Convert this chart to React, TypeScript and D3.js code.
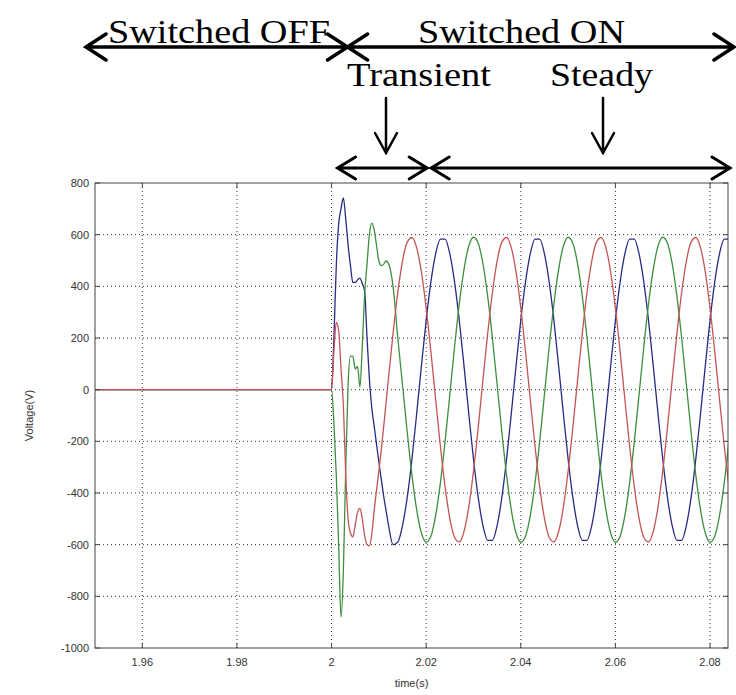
import React from 'react';
import * as d3 from 'd3';

const WIDTH = 736;
const HEIGHT = 695;
const MARGIN = { top: 183, right: 8, bottom: 47, left: 95 };

// sample times (s)
const timeS = [
  1.95,
  2.0, 2.0005, 2.001, 2.0015, 2.002, 2.0025, 2.003, 2.0035, 2.004, 2.0045,
  2.005, 2.0055, 2.006, 2.0065, 2.007, 2.0075, 2.008, 2.0085, 2.009, 2.0095,
  2.01, 2.0105, 2.011, 2.0115, 2.012,
  2.013, 2.014, 2.015, 2.016, 2.017, 2.018, 2.019, 2.02, 2.021, 2.022,
  2.023, 2.024, 2.025, 2.026, 2.027, 2.028, 2.029, 2.03, 2.031, 2.032,
  2.033, 2.034, 2.035, 2.036, 2.037, 2.038, 2.039, 2.04, 2.041, 2.042,
  2.043, 2.044, 2.045, 2.046, 2.047, 2.048, 2.049, 2.05, 2.051, 2.052,
  2.053, 2.054, 2.055, 2.056, 2.057, 2.058, 2.059, 2.06, 2.061, 2.062,
  2.063, 2.064, 2.065, 2.066, 2.067, 2.068, 2.069, 2.07, 2.071, 2.072,
  2.073, 2.074, 2.075, 2.076, 2.077, 2.078, 2.079, 2.08, 2.081, 2.082,
  2.083, 2.084,
];

// phase voltages (V)
const phaseBlue = [
  0,
  0, 200, 480, 640, 700, 742, 660, 560, 480, 415,
  415, 425, 432, 410, 380, 200, 40, -70, -140, -210,
  -280, -345, -410, -465, -520,
  -600, -590, -526, -417, -268, -92, 92, 268, 417, 526,
  583, 583, 526, 417, 268, 92, -92, -268, -417, -526,
  -583, -583, -526, -417, -268, -92, 92, 268, 417, 526,
  583, 583, 526, 417, 268, 92, -92, -268, -417, -526,
  -583, -583, -526, -417, -268, -92, 92, 268, 417, 526,
  583, 583, 526, 417, 268, 92, -92, -268, -417, -526,
  -583, -583, -526, -417, -268, -92, 92, 268, 417, 526,
  583, 583,
];

const phaseGreen = [
  0,
  0, -130, -330, -600, -880, -700, -300, 20, 130, 130,
  80, 90, 10, 170, 370, 486, 600, 645, 620, 560,
  498, 480, 485, 498, 490,
  400, 200, 19, -165, -332, -466, -555, -590, -567, -488,
  -362, -200, -19, 165, 332, 466, 555, 590, 567, 488,
  362, 200, 19, -165, -332, -466, -555, -590, -567, -488,
  -362, -200, -19, 165, 332, 466, 555, 590, 567, 488,
  362, 200, 19, -165, -332, -466, -555, -590, -567, -488,
  -362, -200, -19, 165, 332, 466, 555, 590, 567, 488,
  362, 200, 19, -165, -332, -466, -555, -590, -567, -488,
  -362, -200,
];

const phaseRed = [
  0,
  0, 150, 260, 230, 80, -60, -330, -500, -555, -570,
  -525, -475, -460, -500, -565, -600, -605, -560, -470, -390,
  -316, -234, -147, -55, 37,
  217, 376, 498, 571, 589, 549, 455, 316, 147, -37,
  -217, -376, -498, -571, -589, -549, -455, -316, -147, 37,
  217, 376, 498, 571, 589, 549, 455, 316, 147, -37,
  -217, -376, -498, -571, -589, -549, -455, -316, -147, 37,
  217, 376, 498, 571, 589, 549, 455, 316, 147, -37,
  -217, -376, -498, -571, -589, -549, -455, -316, -147, 37,
  217, 376, 498, 571, 589, 549, 455, 316, 147, -37,
  -217, -376,
];

const xTicks = [1.96, 1.98, 2, 2.02, 2.04, 2.06, 2.08];
const xTickLabels = ['1.96', '1.98', '2', '2.02', '2.04', '2.06', '2.08'];
const yTicks = [-1000, -800, -600, -400, -200, 0, 200, 400, 600, 800];

const series = [
  { name: 'A', values: phaseBlue, color: '#2a2a86' },
  { name: 'B', values: phaseGreen, color: '#3d8f3d' },
  { name: 'C', values: phaseRed, color: '#c65454' },
];

const SERIF = '"Liberation Serif", "Times New Roman", serif';
const SANS = '"Liberation Sans", Arial, sans-serif';

// open chevron arrow heads, drawn as one path
function doubleArrow(x1: number, x2: number, y: number, len: number, half: number) {
  return `M${x1},${y}H${x2}` +
    `M${x1 + len},${y - half}L${x1},${y}L${x1 + len},${y + half}` +
    `M${x2 - len},${y - half}L${x2},${y}L${x2 - len},${y + half}`;
}
function downArrow(x: number, y1: number, y2: number, len: number, half: number) {
  return `M${x},${y1}V${y2}M${x - half},${y2 - len}L${x},${y2}L${x + half},${y2 - len}`;
}

export default function App() {
  const x = d3.scaleLinear().domain([1.95, 2.0838]).range([MARGIN.left, WIDTH - MARGIN.right]);
  const y = d3.scaleLinear().domain([-1000, 800]).range([HEIGHT - MARGIN.bottom, MARGIN.top]);
  const [x0, x1] = x.range();
  const [y0, y1] = y.range();

  const line = d3.line<number>()
    .x((_, i) => x(timeS[i]))
    .y(d => y(d))
    .curve(d3.curveMonotoneX);

  return (
    <svg width={WIDTH} height={HEIGHT} style={{ position: 'absolute', left: 0, top: 0, background: '#fff' }}>
      <defs>
        <clipPath id="plot">
          <rect x={x0} y={y1} width={x1 - x0} height={y0 - y1} />
        </clipPath>
      </defs>

      {/* grid */}
      <g stroke="#333" strokeWidth={1} strokeDasharray="1 3">
        {xTicks.map(t => (
          <line key={'gx' + t} x1={x(t)} x2={x(t)} y1={y1} y2={y0} />
        ))}
        {yTicks.slice(1, -1).map(t => (
          <line key={'gy' + t} x1={x0} x2={x1} y1={y(t)} y2={y(t)} />
        ))}
      </g>

      {/* traces */}
      <g clipPath="url(#plot)" fill="none" strokeWidth={1.3}>
        {series.map(s => (
          <path key={s.name} d={line(s.values) || ''} stroke={s.color} />
        ))}
      </g>

      {/* box + ticks */}
      <g stroke="#444" strokeWidth={1} fill="none">
        <rect x={x0} y={y1} width={x1 - x0} height={y0 - y1} />
        {xTicks.map(t => (
          <g key={'tx' + t}>
            <line x1={x(t)} x2={x(t)} y1={y0} y2={y0 - 5} />
            <line x1={x(t)} x2={x(t)} y1={y1} y2={y1 + 5} />
          </g>
        ))}
        {yTicks.map(t => (
          <g key={'ty' + t}>
            <line x1={x0} x2={x0 + 5} y1={y(t)} y2={y(t)} />
            <line x1={x1} x2={x1 - 5} y1={y(t)} y2={y(t)} />
          </g>
        ))}
      </g>

      {/* tick labels */}
      <g fontFamily={SANS} fontSize={11} fill="#333">
        {xTicks.map((t, i) => (
          <text key={'lx' + t} x={x(t)} y={y0 + 18} textAnchor="middle">{xTickLabels[i]}</text>
        ))}
        {yTicks.map(t => (
          <text key={'ly' + t} x={x0 - 6} y={y(t) + 4} textAnchor="end">{t}</text>
        ))}
        <text x={(x0 + x1) / 2} y={y0 + 39} textAnchor="middle">time(s)</text>
        <text transform={`translate(33,${(y0 + y1) / 2}) rotate(-90)`} textAnchor="middle">Voltage(V)</text>
      </g>

      {/* annotations */}
      <g fontFamily={SERIF} fontSize={34} fill="#000">
        <text x={108} y={43} textLength={222} lengthAdjust="spacingAndGlyphs">Switched OFF</text>
        <text x={418} y={43} textLength={207} lengthAdjust="spacingAndGlyphs">Switched ON</text>
        <text x={347} y={86} textLength={144} lengthAdjust="spacingAndGlyphs">Transient</text>
        <text x={550} y={86} textLength={103} lengthAdjust="spacingAndGlyphs">Steady</text>
      </g>
      <g stroke="#000" fill="none" strokeLinecap="round" strokeLinejoin="miter">
        <path d={doubleArrow(86, x(2.0) + 16, 47, 20, 13)} strokeWidth={3.5} />
        <path d={doubleArrow(x(2.0) + 16, 734, 47, 20, 13)} strokeWidth={3.5} />
        <path d={downArrow(386, 98, 153, 20, 11)} strokeWidth={2.5} />
        <path d={downArrow(603, 98, 153, 20, 11)} strokeWidth={2.5} />
        <path d={doubleArrow(x(2.0) + 6, x(2.02) + 1, 168, 18, 11)} strokeWidth={3} />
        <path d={doubleArrow(x(2.02) + 5, x1 + 2, 168, 18, 11)} strokeWidth={3} />
      </g>
    </svg>
  );
}
